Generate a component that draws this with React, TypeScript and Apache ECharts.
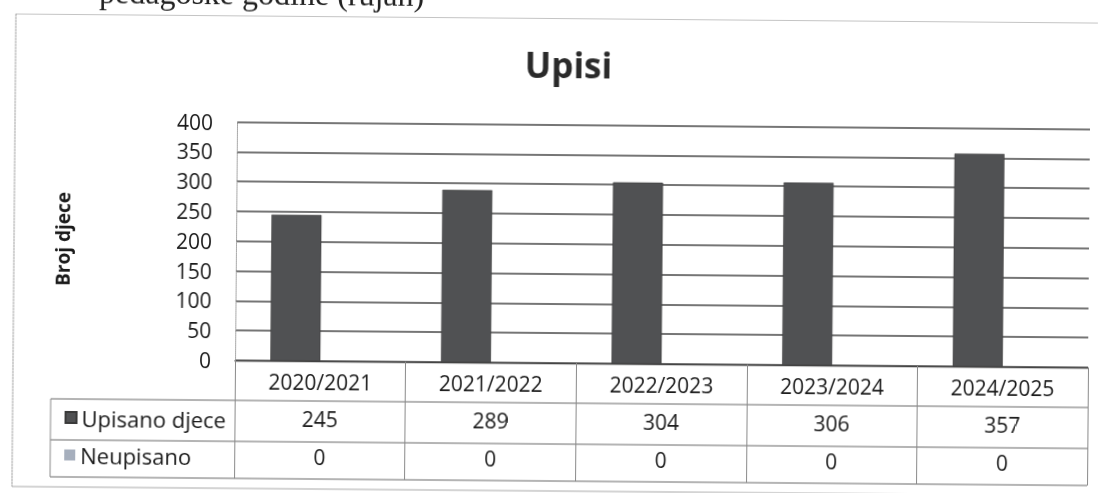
import React, { useEffect, useRef } from "react";
import * as echarts from "echarts";

const categories = ["2020/2021", "2021/2022", "2022/2023", "2023/2024", "2024/2025"];
const upisano = [245, 289, 304, 306, 357];
const neupisano = [0, 0, 0, 0, 0];
const seriesNames = ["Upisano djece", "Neupisano"];
const yMin = 0;
const yMax = 400;
const yStep = 50;
const chartTitle = "Upisi";
const yAxisName = "Broj djece";
const pageText = "pedagoške godine (rujan)";

const FONT = "'Open Sans', 'Noto Sans', sans-serif";
const TXT = "#1a1a1a";

export default function App() {
  const ref = useRef<HTMLDivElement>(null);
  useEffect(() => {
    if (!ref.current) return;
    const chart = echarts.init(ref.current, null, { renderer: "svg" });
    const tableLine = { stroke: "#6a6a6a", lineWidth: 1 };
    const legendText = { fontFamily: FONT, fontSize: 22, color: TXT, lineHeight: 24 };
    const option: any = {
      animation: false,
      backgroundColor: "#ffffff",
      textStyle: { fontFamily: FONT },
      title: {
        text: chartTitle,
        left: 567,
        top: 44,
        padding: 0,
        textAlign: "center",
        textStyle: { fontFamily: FONT, fontSize: 35, fontWeight: "bold", color: "#2a2a2a", lineHeight: 40 },
      },
      legend: [
        {
          data: [seriesNames[0]],
          left: 66,
          top: 409.5,
          padding: 0,
          icon: "rect",
          itemWidth: 11,
          itemHeight: 11,
          textStyle: legendText,
        },
        {
          data: [seriesNames[1]],
          left: 66,
          top: 447,
          padding: 0,
          icon: "rect",
          itemWidth: 11,
          itemHeight: 11,
          textStyle: legendText,
        },
      ],
      grid: { left: 236, right: 13, top: 124.5, bottom: 130, containLabel: false },
      xAxis: [
        {
          type: "category",
          data: categories,
          position: "bottom",
          axisLine: { show: true, lineStyle: { color: "#444", width: 1.3 } },
          axisTick: { show: true, interval: 0, length: 118, lineStyle: { color: "#8a8a8a", width: 1 } },
          axisLabel: { interval: 0, margin: 21, verticalAlign: "middle", fontFamily: FONT, fontSize: 21, color: TXT },
        },
        {
          type: "category",
          data: categories,
          position: "bottom",
          axisLine: { show: false },
          axisTick: { show: false },
          axisLabel: {
            interval: 0,
            margin: 58,
            verticalAlign: "middle",
            fontFamily: FONT,
            fontSize: 21,
            color: TXT,
            formatter: (_v: string, i: number) => String(upisano[i]),
          },
        },
        {
          type: "category",
          data: categories,
          position: "bottom",
          axisLine: { show: false },
          axisTick: { show: false },
          axisLabel: {
            interval: 0,
            margin: 96,
            verticalAlign: "middle",
            fontFamily: FONT,
            fontSize: 21,
            color: TXT,
            formatter: (_v: string, i: number) => String(neupisano[i]),
          },
        },
      ],
      yAxis: {
        type: "value",
        min: yMin,
        max: yMax,
        interval: yStep,
        axisLine: { show: true, lineStyle: { color: "#999", type: "dotted", width: 1 } },
        axisTick: { show: false },
        axisLabel: { margin: 24, fontFamily: FONT, fontSize: 21, color: TXT },
        splitLine: { show: true, lineStyle: { color: "#484848", width: 1.5 } },
      },
      series: [
        {
          name: seriesNames[0],
          type: "bar",
          xAxisIndex: 0,
          data: upisano,
          barWidth: 50,
          barGap: "0%",
          itemStyle: { color: "#505153", borderColor: "#3a3a3a", borderWidth: 0.6 },
        },
        {
          name: seriesNames[1],
          type: "bar",
          xAxisIndex: 0,
          data: neupisano,
          barWidth: 50,
          barGap: "0%",
          itemStyle: { color: "#a6afbd" },
        },
      ],
      graphic: [
        {
          type: "text",
          x: 97,
          y: -4,
          style: {
            text: pageText,
            fontFamily: "'Liberation Serif', 'DejaVu Serif', serif",
            fontSize: 32,
            fill: "#222",
            verticalAlign: "middle",
          },
        },
        { type: "line", shape: { x1: 14, y1: 18.5, x2: 1096, y2: 18.5 }, style: { stroke: "#c4c4c4", lineWidth: 1 } },
        { type: "line", shape: { x1: 14, y1: 18.5, x2: 14, y2: 491 }, style: { stroke: "#9a9a9a", lineWidth: 1.2, lineDash: [2, 1] } },
        { type: "line", shape: { x1: 14, y1: 491, x2: 1096, y2: 491 }, style: { stroke: "#aaaaaa", lineWidth: 1.2 } },
        { type: "line", shape: { x1: 52, y1: 403, x2: 1089, y2: 403 }, style: tableLine },
        { type: "line", shape: { x1: 52, y1: 444, x2: 1089, y2: 444 }, style: tableLine },
        { type: "line", shape: { x1: 52, y1: 481, x2: 1089, y2: 481 }, style: tableLine },
        { type: "line", shape: { x1: 52, y1: 403, x2: 52, y2: 481 }, style: { stroke: "#8a8a8a", lineWidth: 1 } },
        {
          type: "text",
          x: 63,
          y: 243,
          rotation: Math.PI / 2,
          style: {
            text: yAxisName,
            fontFamily: FONT,
            fontSize: 19,
            fontWeight: "bold",
            fill: TXT,
            align: "center",
            verticalAlign: "middle",
          },
        },
      ],
    };
    chart.setOption(option);
    return () => chart.dispose();
  }, []);
  return (
    <div
      ref={ref}
      style={{
        position: "fixed",
        left: 0,
        top: 0,
        width: 1102,
        height: 493,
        background: "#fff",
        transform: "rotate(0.48deg)",
        transformOrigin: "551px 246px",
      }}
    />
  );
}
